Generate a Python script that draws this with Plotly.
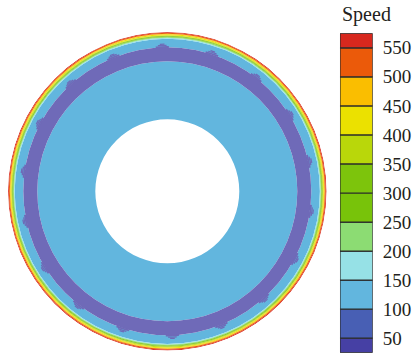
import plotly.graph_objects as go

# Discrete speed levels of the colour scale and their colours
level_edges = [25, 50, 100, 150, 200, 250, 300, 350, 400, 450, 500, 550, 575]
level_colors = ["#4640a4", "#485fb4", "#62b6de", "#96e1e6", "#8cdc73", "#78c30a",
                "#7dc40c", "#b9d70a", "#ebe100", "#fabe00", "#eb5a0a", "#d7281e"]
tick_values = [50, 100, 150, 200, 250, 300, 350, 400, 450, 500, 550]

# Concentric flow bands across the annulus (radius as r/R) and mean speed
band_r_inner = [0.452, 0.904, 0.958, 0.963, 0.968, 0.972, 0.976, 0.980, 0.985, 0.989, 0.995]
band_r_outer = [0.816, 0.958, 0.963, 0.968, 0.972, 0.976, 0.980, 0.985, 0.989, 0.995, 1.000]
band_speed = [120, 125, 175, 225, 275, 325, 375, 425, 475, 525, 565]

# Low-speed ring and the bumps on its outer edge
ring_r_inner = 0.816
ring_r_outer = 0.904
ring_speed = 35
bump_angles = [12, 32, 52, 72, 92, 112, 132, 152, 172, 192, 212, 232, 252, 272,
               292, 312, 332, 352]
bump_tip_r = 0.928


def level_color(v):
    for lo, hi, c in zip(level_edges[:-1], level_edges[1:], level_colors):
        if lo <= v < hi:
            return c
    return level_colors[-1]


def tint(hex_color, amount):
    h = hex_color.lstrip("#")
    rgb = [int(h[i:i + 2], 16) for i in (0, 2, 4)]
    rgb = [round(c + (255 - c) * amount) for c in rgb]
    return "rgb({},{},{})".format(*rgb)


fig = go.Figure()

# Flow bands
fig.add_trace(go.Barpolar(
    r=[o - i for i, o in zip(band_r_inner, band_r_outer)],
    base=band_r_inner,
    theta=[0] * len(band_speed),
    width=[360] * len(band_speed),
    marker=dict(color=[level_color(v) for v in band_speed], line=dict(width=0)),
    hoverinfo="skip", showlegend=False,
))

# Low-speed ring (drawn a little lighter) with tapered bumps
ring_color = tint(level_color(ring_speed), 0.22)
bump_steps = [(ring_r_outer - 0.004, 0.912, 5.2),
              (0.912, 0.920, 3.4),
              (0.920, bump_tip_r, 1.8)]
r_vals, base_vals, theta_vals, width_vals = [ring_r_outer - ring_r_inner], [ring_r_inner], [0], [360]
for lo, hi, w in bump_steps:
    r_vals += [hi - lo] * len(bump_angles)
    base_vals += [lo] * len(bump_angles)
    theta_vals += bump_angles
    width_vals += [w] * len(bump_angles)

fig.add_trace(go.Barpolar(
    r=r_vals, base=base_vals, theta=theta_vals, width=width_vals,
    marker=dict(color=ring_color, line=dict(width=0)),
    hoverinfo="skip", showlegend=False,
))

# Colour bar built as a stacked column of level boxes
fig.add_trace(go.Bar(
    x=[0] * len(level_colors),
    y=[hi - lo for lo, hi in zip(level_edges[:-1], level_edges[1:])],
    base=level_edges[:-1],
    width=1,
    marker=dict(color=level_colors, line=dict(color="#2b2b2b", width=1.2)),
    xaxis="x", yaxis="y",
    hoverinfo="skip", showlegend=False,
))

serif = "Liberation Serif"
fig.update_layout(
    width=413, height=356,
    margin=dict(l=0, r=0, t=0, b=0),
    paper_bgcolor="white", plot_bgcolor="white",
    barmode="overlay",
    polar=dict(
        domain=dict(x=[0.0194, 0.7908], y=[0.0152, 0.9101]),
        bgcolor="white",
        radialaxis=dict(range=[0, 1], visible=False),
        angularaxis=dict(visible=False),
    ),
    xaxis=dict(domain=[0.8232, 0.9024], range=[-0.5, 0.5], visible=False,
               fixedrange=True),
    yaxis=dict(domain=[0.0093, 0.9065], range=[level_edges[0], level_edges[-1]],
               side="right", anchor="x", tickvals=tick_values, ticks="",
               showgrid=False, zeroline=False, showline=False,
               ticklabelstandoff=9,
               tickfont=dict(family=serif, size=19, color="#231f20")),
    annotations=[dict(
        text="Speed", x=0.8232, y=0.958, xref="paper", yref="paper",
        xanchor="left", yanchor="middle", showarrow=False,
        font=dict(family=serif, size=20, color="#231f20"),
    )],
)

fig.write_html("out.html")
